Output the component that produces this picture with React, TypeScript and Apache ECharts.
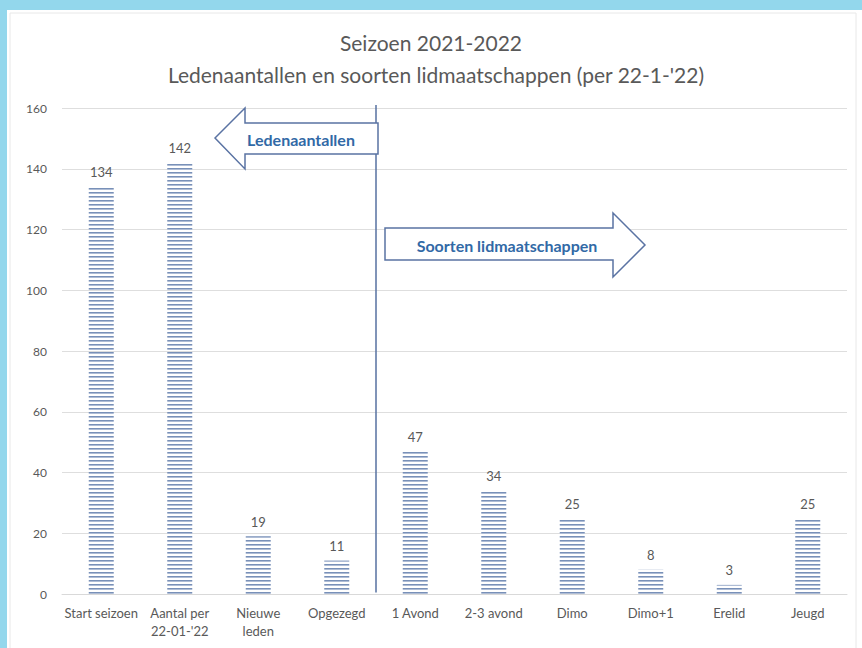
import React, { useEffect, useRef } from "react";
import * as echarts from "echarts";

const categories = [
  "Start seizoen",
  "Aantal per\n22-01-'22",
  "Nieuwe\nleden",
  "Opgezegd",
  "1 Avond",
  "2-3 avond",
  "Dimo",
  "Dimo+1",
  "Erelid",
  "Jeugd",
];
const values = [134, 142, 19, 11, 47, 34, 25, 8, 3, 25];
const yMin = 0;
const yMax = 160;
const yInterval = 20;
const titleLines = [
  "Seizoen 2021-2022",
  "Ledenaantallen en soorten lidmaatschappen (per 22-1-'22)",
];
const arrowLabels = ["Ledenaantallen", "Soorten lidmaatschappen"];

const FONT = "Lato, 'Noto Sans', sans-serif";
const GREY = "#595959";

export default function App() {
  const ref = useRef<HTMLDivElement>(null);

  useEffect(() => {
    if (!ref.current) return;
    const chart = echarts.init(ref.current, undefined, { renderer: "svg" });

    const c = document.createElement("canvas");
    c.width = 4;
    c.height = 4;
    const ctx = c.getContext("2d")!;
    ctx.fillStyle = "#7890b8";
    ctx.fillRect(0, 0, 4, 1);
    ctx.fillStyle = "#aebcd5";
    ctx.fillRect(0, 1, 4, 1);

    chart.setOption({
      animation: false,
      backgroundColor: "#93d7ec",
      textStyle: { fontFamily: FONT },
      grid: { left: 62, right: 15, top: 108, bottom: 54 },
      xAxis: {
        type: "category",
        data: categories,
        axisLine: { lineStyle: { color: "#d9d9d9", width: 1 } },
        axisTick: { show: false },
        axisLabel: {
          interval: 0,
          color: GREY,
          fontSize: 13,
          lineHeight: 18,
          margin: 10,
          fontFamily: FONT,
        },
        z: 3,
      },
      yAxis: {
        type: "value",
        min: yMin,
        max: yMax,
        interval: yInterval,
        axisLine: { show: false },
        axisTick: { show: false },
        axisLabel: { color: GREY, fontSize: 12, margin: 15, fontFamily: FONT },
        splitLine: { lineStyle: { color: "#dedede", width: 1 } },
      },
      series: [
        {
          type: "bar",
          data: values,
          barWidth: 25,
          itemStyle: { color: { image: c, repeat: "repeat" } },
          label: {
            show: true,
            position: "top",
            distance: 8,
            color: GREY,
            fontSize: 13,
            fontFamily: FONT,
          },
        },
      ],
    });

    const x3 = chart.convertToPixel({ xAxisIndex: 0 }, categories[3]) as number;
    const x4 = chart.convertToPixel({ xAxisIndex: 0 }, categories[4]) as number;
    const xDiv = (x3 + x4) / 2;
    const yTop = chart.convertToPixel({ yAxisIndex: 0 }, 161) as number;
    const yBot = chart.convertToPixel({ yAxisIndex: 0 }, 0.5) as number;

    const arrowStyle = { fill: "#ffffff", stroke: "#5a73a3", lineWidth: 1.5 };
    const arrowText = (text: string, x: number, y: number) => ({
      type: "text",
      z: 21,
      style: {
        text,
        x,
        y,
        fill: "#3169a6",
        font: `bold 16px ${FONT}`,
        align: "center",
        verticalAlign: "middle",
        textAlign: "center",
        textVerticalAlign: "middle",
      },
    });
    const titleText = (text: string, x: number, y: number) => ({
      type: "text",
      z: 5,
      style: {
        text,
        x,
        y,
        fill: GREY,
        font: `21px ${FONT}`,
        align: "center",
        verticalAlign: "middle",
        textAlign: "center",
        textVerticalAlign: "middle",
      },
    });

    chart.setOption({
      graphic: [
        {
          type: "rect",
          z: -10,
          shape: { x: 7, y: 10, width: 855, height: 638 },
          style: { fill: "#ffffff" },
        },
        {
          type: "rect",
          z: -9,
          shape: { x: 10, y: 13, width: 846, height: 640 },
          style: { fill: "none", stroke: "#e8e8e8", lineWidth: 1 },
        },
        titleText(titleLines[0], 431, 42),
        titleText(titleLines[1], 436, 74),
        {
          type: "line",
          z: 15,
          shape: { x1: xDiv, y1: yTop, x2: xDiv, y2: yBot },
          style: { stroke: "#5670a0", lineWidth: 1.5 },
        },
        {
          type: "polygon",
          z: 20,
          shape: {
            points: [
              [215, 138],
              [245, 108],
              [245, 123],
              [378, 123],
              [378, 154],
              [245, 154],
              [245, 169],
            ],
          },
          style: arrowStyle,
        },
        arrowText(arrowLabels[0], 301, 139),
        {
          type: "polygon",
          z: 20,
          shape: {
            points: [
              [385, 228],
              [613, 228],
              [613, 213],
              [645, 245],
              [613, 277],
              [613, 260],
              [385, 260],
            ],
          },
          style: arrowStyle,
        },
        arrowText(arrowLabels[1], 507, 245),
      ],
    });

    return () => chart.dispose();
  }, []);

  return (
    <div
      ref={ref}
      style={{ position: "fixed", left: 0, top: 0, width: 862, height: 648 }}
    />
  );
}
